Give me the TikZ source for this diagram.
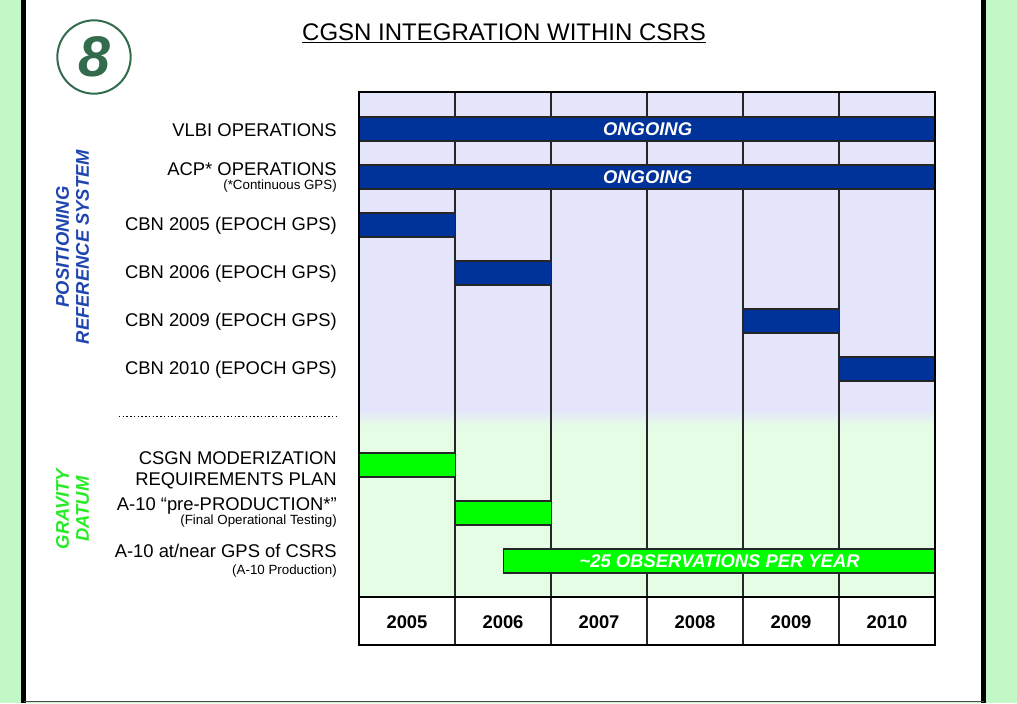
\documentclass[tikz,border=0pt]{standalone}
\usepackage{fontspec}
\setmainfont{Liberation Sans}

\definecolor{pagegreen}{RGB}{196,247,198}
\definecolor{lav}{RGB}{228,228,251}
\definecolor{lgreen}{RGB}{229,253,229}
\definecolor{barblue}{RGB}{0,51,153}
\definecolor{bargreen}{RGB}{0,255,0}
\definecolor{txtblue}{RGB}{31,70,176}
\definecolor{txtgreen}{RGB}{40,235,40}
\definecolor{circgreen}{RGB}{51,107,77}

\tikzset{
  bar/.style      = {draw=black!85, line width=0.9pt, inner sep=0pt, anchor=west,
                     minimum height=18pt, text height=9.9pt, text depth=0pt, text=white,
                     font=\bfseries\itshape\fontsize{13.8}{16}\selectfont},
  bluebar/.style  = {bar, fill=barblue},
  greenbar/.style = {bar, fill=bargreen},
  rowlabel/.style = {anchor=base east, inner sep=0pt, font=\fontsize{13.8}{16}\selectfont},
  note/.style     = {anchor=base east, inner sep=0pt, font=\fontsize{10}{12}\selectfont},
  year/.style     = {anchor=base, inner sep=0pt, font=\bfseries\fontsize{13.8}{16}\selectfont},
  group/.style    = {rotate=90, align=center, inner sep=0pt,
                     font=\bfseries\itshape\fontsize{13.8}{15}\selectfont},
  grid/.style     = {draw=black!85, line width=1.1pt}
}

\begin{document}
\begin{tikzpicture}[x=0.75pt, y=-0.75pt]
\useasboundingbox (0,0) rectangle (1017,703);

% page and white panel
\fill[pagegreen] (0,0) rectangle (1017,703);
\fill[white] (23.5,0) rectangle (983.5,701.5);
\draw[line width=3.8pt] (23.5,0) -- (23.5,703);
\draw[line width=3.8pt] (983.5,0) -- (983.5,703);
\draw[black!70, line width=0.8pt] (23.5,701.5) -- (983.5,701.5);

% number and title
\node[circle, draw=circgreen, line width=1.5pt, minimum size=55pt, inner sep=0pt,
      text=circgreen, font=\bfseries\itshape\fontsize{43}{43}\selectfont] (num) at (94,57) {8};
\node[anchor=base, inner sep=0pt, font=\fontsize{18}{20}\selectfont] (title) at (504,40)
  {\underline{CGSN INTEGRATION WITHIN CSRS}};

% chart background, lavender above, green below
\fill[lav] (359,92) rectangle (935,410);
\shade[top color=lav, bottom color=lgreen] (359,409.5) rectangle (935,426);
\fill[lgreen] (359,425.5) rectangle (935,597);
\fill[white] (359,597) rectangle (935,645);

\foreach \i in {1,...,5}
  \draw[grid] (359+96*\i,92) -- (359+96*\i,645);

% the positioning bars
\node[bluebar, minimum width=432pt] (vlbi) at (359,129) {ONGOING};
\node[bluebar, minimum width=432pt] (acp) at (359,177) {ONGOING};
\foreach \col/\row/\nm in {0/225/cbn5, 1/273/cbn6, 4/321/cbn9, 5/369/cbn10}
  \node[bluebar, minimum width=72pt] (\nm) at (359+96*\col,\row) {};

% the gravity bars
\node[greenbar, minimum width=72pt] (plan) at (359,465) {};
\node[greenbar, minimum width=72pt] (pre) at (455,513) {};
\node[greenbar, minimum width=324pt] (obs) at (503,561) {\textasciitilde25 OBSERVATIONS PER YEAR};

% years and frame
\draw[line width=2pt] (359,597) -- (935,597);
\draw[line width=2.2pt] (359,92) rectangle (935,645);
\foreach \y [count=\i from 0] in {2005,...,2010}
  \node[year] (y\y) at (407+96*\i,628) {\y};

% row labels
\node[rowlabel] (vlbi-l) at (337,136) {VLBI OPERATIONS};
\node[rowlabel] (acp-l) at (337,175) {ACP* OPERATIONS};
\node[note] (acp-n) at (337,189) {(*Continuous GPS)};
\foreach \yr/\b in {2005/230.5, 2006/278.5, 2009/326, 2010/374}
  \node[rowlabel] (l\yr) at (337,\b) {CBN \yr{} (EPOCH GPS)};

\coordinate (dotl) at (119,416.5);
\coordinate (dotr) at (336,416.5);
\draw[line width=1.2pt, dash pattern=on 1.1pt off 1.7pt] (dotl) -- (dotr);

\node[rowlabel] (plan-l1) at (337,464) {CSGN MODERIZATION};
\node[rowlabel] (plan-l2) at (337,485) {REQUIREMENTS PLAN};
\node[rowlabel] (pre-l) at (337,510) {A-10 “pre-PRODUCTION*”};
\node[note] (pre-n) at (337,524) {(Final Operational Testing)};
\node[rowlabel] (obs-l) at (337,557) {A-10 at/near GPS of CSRS};
\node[note] (obs-n) at (337,574) {(A-10 Production)};

% side headings
\node[group, text=txtblue] (prs) at (72.5,247) {POSITIONING\\REFERENCE SYSTEM};
\node[group, text=txtgreen] (grav) at (72.5,509) {GRAVITY\\DATUM};
\end{tikzpicture}
\end{document}
